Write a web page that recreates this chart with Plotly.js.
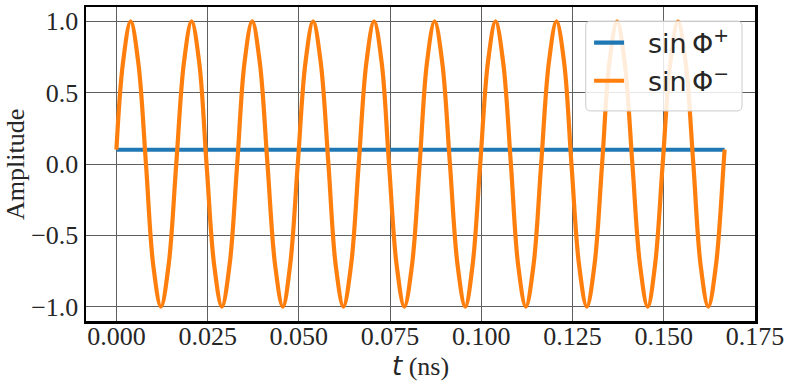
<!DOCTYPE html>
<html>
<head>
<meta charset="utf-8">
<script src="https://cdn.plot.ly/plotly-3.0.1.min.js"></script>
<style>html,body{margin:0;padding:0;background:#fff;}#chart{width:791px;height:388px;}</style>
</head>
<body>
<div id="chart"></div>
<script>
// Data
const tPlus = [0, 0.16667];
const ampPlus = [0.1, 0.1];

const tMinus = [
  0,
  0.0018, 0.0039, 0.0060, 0.0081, 0.0101, 0.0122, 0.0143, 0.0164,
  0.0185, 0.0206, 0.0227, 0.0247, 0.0268, 0.0289, 0.0310, 0.0331,
  0.0351, 0.0372, 0.0393, 0.0414, 0.0435, 0.0456, 0.0476, 0.0497,
  0.0518, 0.0539, 0.0560, 0.0581, 0.0601, 0.0622, 0.0643, 0.0664,
  0.0685, 0.0706, 0.0727, 0.0747, 0.0768, 0.0789, 0.0810, 0.0831,
  0.0851, 0.0872, 0.0893, 0.0914, 0.0935, 0.0956, 0.0976, 0.0997,
  0.1018, 0.1039, 0.1060, 0.1081, 0.1101, 0.1122, 0.1143, 0.1164,
  0.1185, 0.1206, 0.1227, 0.1247, 0.1268, 0.1289, 0.1310, 0.1331,
  0.1351, 0.1372, 0.1393, 0.1414, 0.1435, 0.1456, 0.1476, 0.1497,
  0.1518, 0.1539, 0.1560, 0.1581, 0.1601, 0.1622, 0.1643, 0.1664,
  0.16667
];
const ampMinus = [
  0.1,
  0.71, 1.0, 0.71, 0.0, -0.71, -1.0, -0.71, 0.0,
  0.71, 1.0, 0.71, 0.0, -0.71, -1.0, -0.71, 0.0,
  0.71, 1.0, 0.71, 0.0, -0.71, -1.0, -0.71, 0.0,
  0.71, 1.0, 0.71, 0.0, -0.71, -1.0, -0.71, 0.0,
  0.71, 1.0, 0.71, 0.0, -0.71, -1.0, -0.71, 0.0,
  0.71, 1.0, 0.71, 0.0, -0.71, -1.0, -0.71, 0.0,
  0.71, 1.0, 0.71, 0.0, -0.71, -1.0, -0.71, 0.0,
  0.71, 1.0, 0.71, 0.0, -0.71, -1.0, -0.71, 0.0,
  0.71, 1.0, 0.71, 0.0, -0.71, -1.0, -0.71, 0.0,
  0.71, 1.0, 0.71, 0.0, -0.71, -1.0, -0.71, 0.0,
  0.1
];

const xTickVals = [0, 0.025, 0.05, 0.075, 0.1, 0.125, 0.15, 0.175];
const xTickText = ["0.000", "0.025", "0.050", "0.075", "0.100", "0.125", "0.150", "0.175"];
const yTickVals = [-1.0, -0.5, 0.0, 0.5, 1.0];
const yTickText = ["\u22121.0", "\u22120.5", "0.0", "0.5", "1.0"];

const namePlus = "\u2002\u2009sin\u2009\u03A6<sup>+</sup>";
const nameMinus = "\u2002\u2009sin\u2009\u03A6<sup>\u2212</sup>";
const xTitle = '<span style="font-family:DejaVu Sans;font-style:italic">t</span> (ns)';
const yTitle = "Amplitude";

const serif = "Liberation Serif, Times New Roman, serif";
const sans = "DejaVu Sans, sans-serif";

const traces = [
  {x: tPlus, y: ampPlus, name: namePlus, mode: "lines", type: "scatter",
   line: {color: "#1f77b4", width: 4.2}},
  {x: tMinus, y: ampMinus, name: nameMinus, mode: "lines", type: "scatter",
   line: {color: "#ff7f0e", width: 4.2, shape: "spline", smoothing: 1}}
];

// rounded legend frame (paper coords)
const lx0 = 0.747, lx1 = 0.9806, ly0 = 0.669, ly1 = 0.955;
const rx = 5 / 669, ry = 5 / 314;
const framePath = `M ${lx0 + rx},${ly1} L ${lx1 - rx},${ly1} Q ${lx1},${ly1} ${lx1},${ly1 - ry} ` +
  `L ${lx1},${ly0 + ry} Q ${lx1},${ly0} ${lx1 - rx},${ly0} L ${lx0 + rx},${ly0} ` +
  `Q ${lx0},${ly0} ${lx0},${ly0 + ry} L ${lx0},${ly1 - ry} Q ${lx0},${ly1} ${lx0 + rx},${ly1} Z`;

const gridColor = "rgb(95,95,95)";

const layout = {
  width: 791, height: 388,
  margin: {l: 86, r: 36, t: 7, b: 67, pad: 0},
  paper_bgcolor: "#ffffff",
  plot_bgcolor: "#ffffff",
  showlegend: true,
  xaxis: {
    range: [-0.008333, 0.175],
    tickvals: xTickVals, ticktext: xTickText,
    showgrid: true, gridcolor: gridColor, gridwidth: 1,
    zeroline: false,
    showline: true, mirror: true, linecolor: "#000", linewidth: 2.5,
    ticks: "", ticklabelstandoff: -10,
    tickfont: {family: serif, size: 26, color: "#262626"}
  },
  yaxis: {
    range: [-1.1, 1.1],
    tickvals: yTickVals, ticktext: yTickText,
    showgrid: true, gridcolor: gridColor, gridwidth: 1,
    zeroline: false,
    showline: true, mirror: true, linecolor: "#000", linewidth: 2.5,
    ticks: "",
    tickfont: {family: serif, size: 26, color: "#262626"}
  },
  legend: {
    x: 0.752, y: 0.963, xanchor: "left", yanchor: "top",
    bgcolor: "rgba(0,0,0,0)", borderwidth: 0,
    font: {family: sans, size: 27, color: "#262626"},
    itemwidth: 30
  },
  annotations: [
    {text: xTitle, xref: "paper", yref: "paper", x: 0.5, y: 0,
     xanchor: "center", yanchor: "middle", yshift: -45, showarrow: false,
     font: {family: serif, size: 26, color: "#262626"}},
    {text: yTitle, xref: "paper", yref: "paper", x: 0, y: 0.497,
     xanchor: "center", yanchor: "middle", xshift: -70, textangle: -90, showarrow: false,
     font: {family: serif, size: 26, color: "#262626"}}
  ],
  shapes: [
    {type: "path", xref: "paper", yref: "paper", path: framePath,
     fillcolor: "rgba(255,255,255,0.85)", line: {color: "#cccccc", width: 1}, layer: "above"}
  ]
};

Plotly.newPlot("chart", traces, layout, {displayModeBar: false, staticPlot: true});
</script>
</body>
</html>
